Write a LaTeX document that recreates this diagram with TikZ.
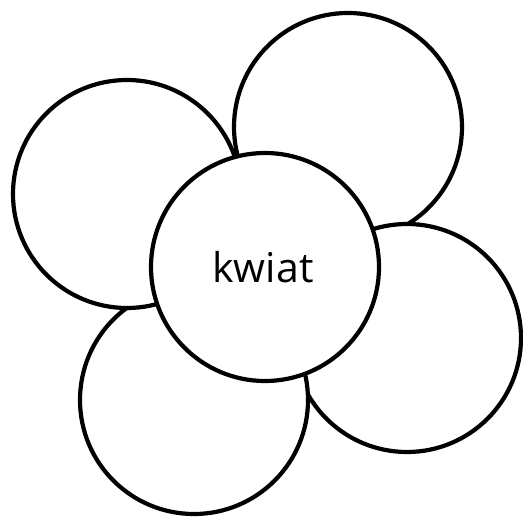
\documentclass[tikz,border=0pt]{standalone}
\usepackage{fontspec}
\newfontfamily\labelfont{Open Sans}
\usepackage{tikz}

\begin{document}
\begin{tikzpicture}[x=1pt,y=-1pt,
  petal/.style={draw,circle,line width=4.2pt,fill=white,inner sep=0pt,
                minimum size=228pt},
  heart/.style={petal,font=\labelfont\fontsize{41}{44}\selectfont}]
\useasboundingbox (0,0) rectangle (523,517);
\node[petal] (topright) at (348,127) {};
\node[petal] (right) at (407,338) {};
\node[petal] (bottomleft) at (194,400) {};
\node[petal] (left) at (127,194) {};
\node[heart] (kwiat) at (265,267) {\hspace*{-4pt}kwiat};
\end{tikzpicture}
\end{document}
